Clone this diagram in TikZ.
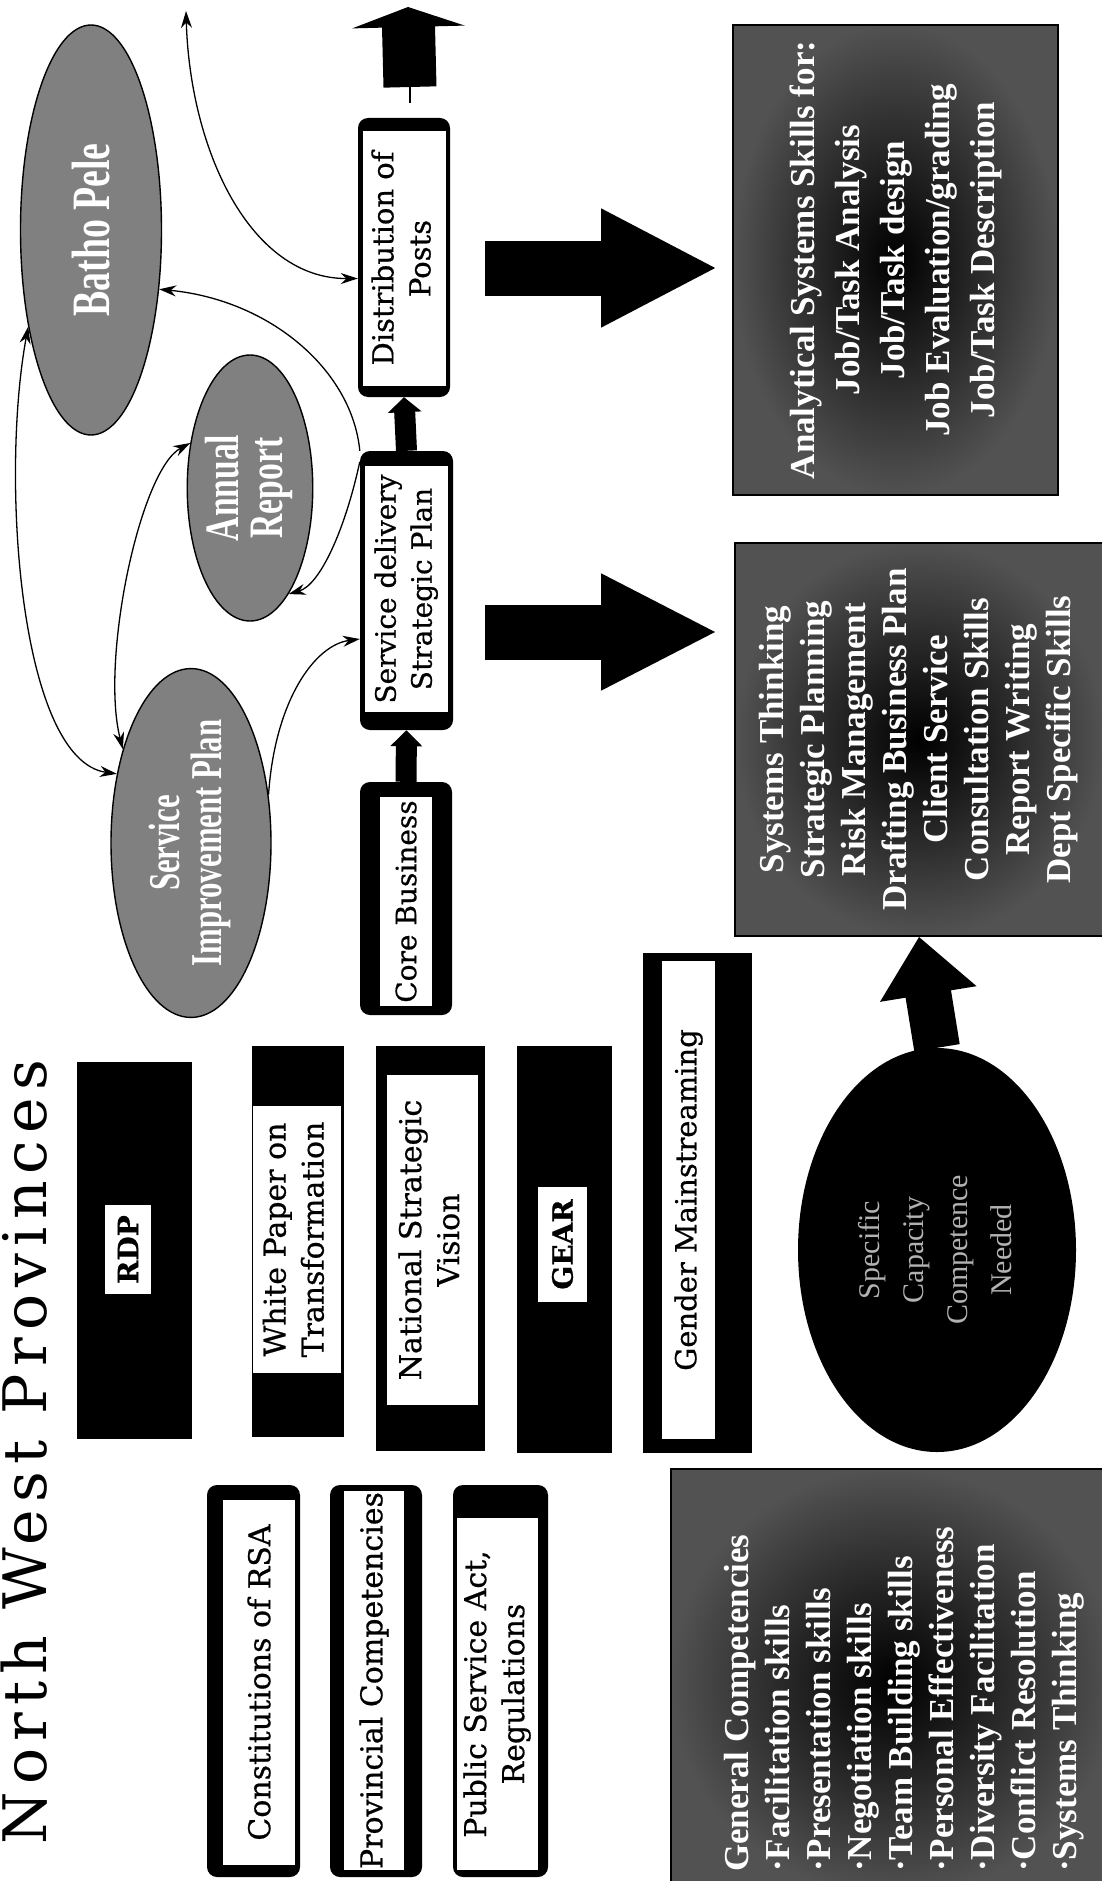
\documentclass[tikz,border=0pt]{standalone}
\usepackage{graphicx}
\usepackage{fontspec}
\setmainfont{DejaVu Serif}[FakeBold=0.6]
\newfontfamily\condfam[FakeStretch=0.7]{Liberation Serif}
\newfontfamily\timesfam{Liberation Serif}
\newfontfamily\titlefam[LetterSpace=12]{DejaVu Serif}
\usetikzlibrary{shapes.geometric,arrows.meta}
\newcommand{\rtxt}[2][c]{\rotatebox{90}{\begin{tabular}{@{}#1@{}}#2\end{tabular}}}
\newcommand{\fsz}[2]{\fontsize{#1}{#2}\selectfont}
\begin{document}
\begin{tikzpicture}[x=1pt,y=-1pt,
  blackbox/.style={fill=black, inner sep=0pt},
  roundbox/.style={fill=black, rounded corners=10pt, inner sep=0pt},
  whitein/.style={fill=white, inner sep=0pt, text=black},
  greyell/.style={ellipse, draw=black, line width=1.4pt, fill=black!50, inner sep=0pt, text=white},
  darkell/.style={ellipse, fill=black, inner sep=0pt, text=gray!60},
  darkbox/.style={draw=black, line width=1.5pt, inner color=black, outer color=black!68, inner sep=0pt, text=white},
  curve/.style={line width=1.3pt, -{Stealth[length=17pt,width=11pt]}},
  bicurve/.style={line width=1.3pt, {Stealth[length=17pt,width=11pt]}-{Stealth[length=17pt,width=11pt]}},
  blockarr/.style n args={3}{line width=#1, line cap=butt, -{Triangle[length=#2,width=#3]}},
]
\useasboundingbox (0,0) rectangle (1102,1881);

% title
\node[anchor=east, inner sep=0pt] (title) at (48,1452) {\titlefam\fsz{60}{60}\rotatebox{90}{North West Provinces}};

% shaded ellipses
\node[greyell, minimum width=141pt, minimum height=410pt] (bp) at (91,230) {\condfam\bfseries\fsz{54}{54}\rotatebox{90}{Batho Pele}};
\node[greyell, minimum width=92pt, minimum height=266pt] (ar) at (250,488) {\condfam\bfseries\fsz{48}{40}\rtxt{Annual\\Report}};
\node[greyell, minimum width=160pt, minimum height=345pt] (sip) at (191,843) {\condfam\bfseries\fsz{44}{40}\rtxt{Service\\Improvement Plan}};

% centre column boxes
\node[roundbox, minimum width=92pt, minimum height=279pt] (dop) at (404,257.5) {};
\node[whitein, minimum width=83pt, minimum height=255pt] (dopin) at (404.5,258.5) {\fsz{29}{37}\rtxt{Distribution of\\Posts}};
\node[roundbox, minimum width=93pt, minimum height=279pt] (sdsp) at (406.5,590.5) {};
\node[whitein, minimum width=83pt, minimum height=246pt] (sdspin) at (406.5,589) {\fsz{28}{36}\rtxt{Service delivery\\Strategic Plan}};
\node[roundbox, minimum width=92pt, minimum height=233pt] (core) at (406,898.5) {};
\node[whitein, minimum width=52pt, minimum height=209pt] (corein) at (406,901.5) {\fsz{28}{36}\rotatebox{90}{Core Business}};

% policy boxes
\node[blackbox, minimum width=115pt, minimum height=377pt] (rdp) at (134.5,1250.5) {};
\node[whitein, minimum width=46pt, minimum height=89pt] (rdpin) at (128,1249.5) {\bfseries\fsz{28}{36}\rotatebox{90}{RDP}};
\node[blackbox, minimum width=92pt, minimum height=391pt] (wp) at (298,1241.5) {};
\node[whitein, minimum width=88pt, minimum height=267pt] (wpin) at (297,1239.5) {\fsz{30}{38}\rtxt{White Paper on\\Transformation}};
\node[blackbox, minimum width=109pt, minimum height=405pt] (nsv) at (430.5,1248.5) {};
\node[whitein, minimum width=91pt, minimum height=330pt] (nsvin) at (432.5,1240) {\fsz{30}{38}\rtxt{National Strategic\\Vision}};
\node[blackbox, minimum width=95pt, minimum height=407pt] (gear) at (564.5,1249.5) {};
\node[whitein, minimum width=49pt, minimum height=115pt] (gearin) at (562.5,1244.5) {\bfseries\fsz{28}{36}\rotatebox{90}{GEAR}};
\node[blackbox, minimum width=109pt, minimum height=500pt] (gm) at (697.5,1203) {};
\node[whitein, minimum width=53pt, minimum height=478pt] (gmin) at (688.5,1200) {\fsz{29}{36}\rotatebox{90}{Gender Mainstreaming}};

% legal boxes
\node[roundbox, minimum width=93pt, minimum height=392pt] (con) at (253.5,1681) {};
\node[whitein, minimum width=72pt, minimum height=365pt] (conin) at (259,1682.5) {\fsz{30}{38}\rotatebox{90}{Constitutions of RSA}};
\node[roundbox, minimum width=92pt, minimum height=392pt] (prov) at (376,1681) {};
\node[whitein, minimum width=60pt, minimum height=379pt] (provin) at (374,1680.5) {\fsz{30}{38}\rotatebox{90}{Provincial Competencies}};
\node[roundbox, minimum width=95pt, minimum height=392pt] (psa) at (500.5,1681) {};
\node[whitein, minimum width=81pt, minimum height=352pt] (psain) at (497.5,1694) {\fsz{30}{38}\rtxt{Public Service Act,\\Regulations}};

% dark skill boxes
\node[darkbox, minimum width=325pt, minimum height=470pt] (anal) at (895.5,260) {\timesfam\bfseries\fsz{35}{45}\rtxt{Analytical Systems Skills for:\\Job/Task Analysis\\Job/Task design\\Job Evaluation/grading\\Job/Task Description}};
\node[darkbox, minimum width=368pt, minimum height=393pt] (sys) at (919,739.5) {\timesfam\bfseries\fsz{35}{41}\rtxt{Systems Thinking\\Strategic Planning\\Risk Management\\Drafting Business Plan\\Client Service\\Consultation Skills\\Report Writing\\Dept Specific Skills}};
\node[darkbox, minimum width=444pt, minimum height=426pt] (gen) at (893,1682) {};
\node[anchor=south west, inner sep=0pt, text=white] (gentext) at (720,1872) {\timesfam\bfseries\fsz{35}{41}\rtxt[l]{General Competencies\\·Facilitation skills\\·Presentation skills\\·Negotiation skills\\·Team Building skills\\·Personal Effectiveness\\·Diversity Facilitation\\·Conflict Resolution\\·Systems Thinking}};

% dark ellipse
\node[darkell, minimum width=278pt, minimum height=404pt] (spec) at (937,1250) {\timesfam\fsz{30}{44}\rtxt{Specific\\Capacity\\Competence\\Needed}};

% block arrows
\coordinate (ra1s) at (485,268); \coordinate (ra1e) at (718,268);
\coordinate (ra2s) at (485,632); \coordinate (ra2e) at (718,632);
\coordinate (tl) at (410,103); \coordinate (ta0) at (410,87); \coordinate (ta1) at (408,7);
\draw[blockarr={55pt}{117pt}{110pt}] (ra1s) -- (ra1e);
\draw[blockarr={55pt}{117pt}{108pt}] (ra2s) -- (ra2e);
\draw[line width=1.2pt] (tl) -- (ta0);
\draw[blockarr={53pt}{20pt}{112pt}] (ta0) -- (ta1);
\draw[blockarr={21pt}{16pt}{31pt}] (core.north) -- (sdsp.south);
\draw[blockarr={21pt}{15pt}{33pt}] (sdsp.north) -- (dop.south);
\draw[blockarr={46pt}{58pt}{94pt}] (spec.north) -- (sys.south);

% thin curved connectors
\coordinate (ctop) at (186,11);
\draw[bicurve] (ctop) .. controls (190,150) and (250,279) .. ([yshift=-21pt]dop.west);
\draw[curve] (sdsp.north west) .. controls (352,370) and (270,300) .. (bp.-41);
\draw[curve] ([yshift=-11pt]sdsp.north west) .. controls (345,530) and (320,585) .. (ar.-70);
\draw[curve] (sip.32) .. controls (275,700) and (315,645) .. ([yshift=-48.5pt]sdsp.west);
\draw[bicurve] (ar.143) .. controls (140,470) and (100,660) .. (sip.126);
\draw[bicurve] (bp.-123) .. controls (0,480) and (20,760) .. (sip.137);
\end{tikzpicture}
\end{document}
